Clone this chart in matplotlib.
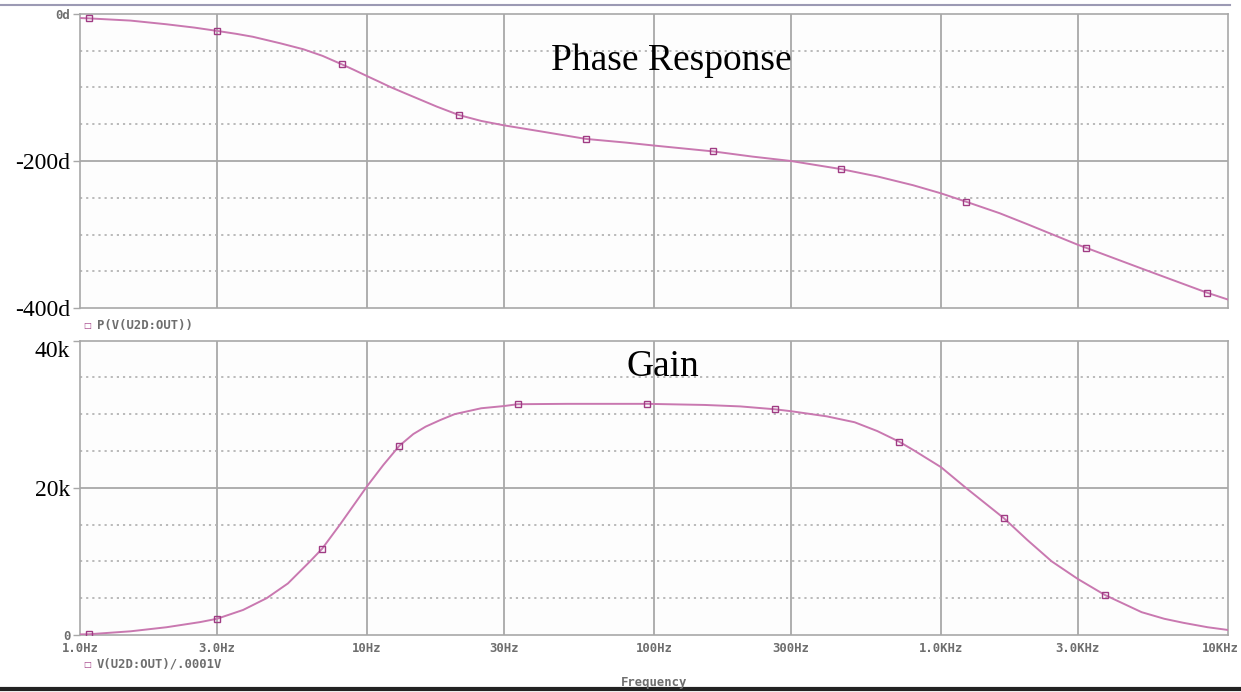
import matplotlib
matplotlib.use('Agg')
import matplotlib.pyplot as plt
from matplotlib.lines import Line2D
import matplotlib.transforms as mtransforms

# phase of V(U2D:OUT), degrees
phase_freq = [1.0, 1.075, 1.5, 2.0, 2.5, 3.0, 3.5, 4.0, 5.0, 6.0,
              7.0, 8.18, 9.0, 10, 11, 12, 13.5, 15, 17.5, 20.9,
              25, 30, 40, 58, 80, 100, 161, 220, 300, 448,
              600, 800, 1000, 1219, 1600, 2000, 3000, 3200, 5058, 8430,
              10000]
phase_deg = [-5.5, -6, -9, -14, -18.5, -23, -27, -31, -40, -48,
             -57, -68.6, -76, -84.5, -92, -99, -107.5, -115, -126, -137.5,
             -145.5, -151.5, -159.5, -170, -175, -179, -187, -194, -200, -211,
             -221, -233, -244, -255.2, -271, -286, -314, -318, -347, -379,
             -388.5]
phase_marks = [1, 5, 11, 19, 23, 26, 29, 33, 37, 39]

# gain, V(U2D:OUT)/.0001V, in thousands
gain_freq = [1.0, 1.075, 1.5, 2.0, 2.62, 3.0, 3.7, 4.47, 5.3, 6.33,
             6.97, 8.05, 10, 11.4, 12.96, 14.5, 16, 18, 20.2, 25,
             30, 33.5, 50, 94.6, 150, 200, 264, 300, 400, 500,
             600, 714, 803, 1000, 1220, 1657, 2000, 2431, 3000, 3727,
             5000, 6000, 7000, 8500, 10000]
gain_k = [0.08, 0.1, 0.5, 1.05, 1.75, 2.2, 3.4, 5.0, 7.0, 10.0,
          11.7, 15.0, 20.2, 23.1, 25.7, 27.3, 28.3, 29.2, 30.0, 30.8,
          31.1, 31.35, 31.4, 31.4, 31.25, 31.05, 30.66, 30.4, 29.7, 28.9,
          27.7, 26.27, 25.1, 22.8, 20.0, 15.86, 12.9, 10.0, 7.6, 5.43,
          3.1, 2.2, 1.65, 1.05, 0.68]
gain_marks = [1, 5, 10, 14, 21, 23, 26, 31, 35, 39]

x_ticks = [1, 3, 10, 30, 100, 300, 1000, 3000, 10000]
x_labels = ['1.0Hz', '3.0Hz', '10Hz', '30Hz', '100Hz', '300Hz', '1.0KHz', '3.0KHz', '10KHz']

LINE = '#c978b0'
MARK = '#a03c84'
GRID = '#a8a8a8'
DOT = '#b4b4b4'
TXT = '#6e6e6e'
mono = dict(family='DejaVu Sans Mono', weight='bold', color=TXT, size=8.8)
serif = dict(family='Liberation Serif', color='black', size=17)

fig = plt.figure(figsize=(12.41, 6.92), dpi=100)
fig.patch.set_facecolor('white')
ax1 = fig.add_axes([0.0645, 0.5549, 0.925, 0.4249])
ax2 = fig.add_axes([0.0645, 0.0824, 0.925, 0.4255])


def setup(ax, ymin, ymax, major, minor):
    ax.set_xscale('log')
    ax.set_xlim(1, 10000)
    ax.set_ylim(ymin, ymax)
    ax.set_facecolor('#fdfdfd')
    for s in ax.spines.values():
        s.set_color(GRID)
        s.set_linewidth(1.2)
    ax.minorticks_off()
    ax.set_xticks(x_ticks)
    for x in x_ticks[1:-1]:
        ax.axvline(x, color=GRID, lw=1.3, zorder=1)
    for y in minor:
        ax.axhline(y, color=DOT, lw=1.3, ls=(0, (1.2, 2.2)), zorder=1)
    for y in major[1:-1]:
        ax.axhline(y, color=GRID, lw=1.3, zorder=1)
    ax.set_yticks(major)
    ax.tick_params(axis='y', length=5, width=1, color=GRID, pad=2)
    ax.tick_params(axis='x', length=0, pad=5)


setup(ax1, -400, 0, [-400, -200, 0], [-350, -300, -250, -150, -100, -50])
setup(ax2, 0, 40000, [0, 20000, 40000], [5000, 10000, 15000, 25000, 30000, 35000])

ax1.plot(phase_freq, phase_deg, color=LINE, lw=1.4, zorder=3,
         marker='s', markevery=phase_marks, ms=4.5, mfc='none', mec=MARK, mew=1)
ax2.plot(gain_freq, [g * 1000 for g in gain_k], color=LINE, lw=1.4, zorder=3,
         marker='s', markevery=gain_marks, ms=4.5, mfc='none', mec=MARK, mew=1)

# y labels: small plotter font for the top/zero ticks, serif for the rest
ax1.set_yticklabels(['-400d', '-200d', '0d'])
labs = ax1.get_yticklabels()
for lab in labs[:2]:
    lab.set(**serif)
labs[2].set(**mono)

ax2.set_yticklabels(['0', '20k', '40k'])
labs = ax2.get_yticklabels()
for lab in labs[1:]:
    lab.set(**serif)
labs[2].set_verticalalignment('top')
labs[0].set(**mono)

ax1.set_xticklabels([])
ax2.set_xticklabels(x_labels)
for lab in ax2.get_xticklabels():
    lab.set(**mono)
last = ax2.get_xticklabels()[-1]
last.set_transform(last.get_transform() +
                   mtransforms.ScaledTranslation(-8 / 100, 0, fig.dpi_scale_trans))

ax1.text(0.515, 0.84, 'Phase Response', transform=ax1.transAxes, ha='center',
         va='center', family='Liberation Serif', size=27)
ax2.text(0.508, 0.912, 'Gain', transform=ax2.transAxes, ha='center',
         va='center', family='Liberation Serif', size=27)

# trace legends under each plot
fig.text(0.0702, 0.5293, '\u25a1', color=MARK, size=6, va='center', ha='center')
fig.text(0.078, 0.5293, 'P(V(U2D:OUT))', va='center', **mono)
fig.text(0.0702, 0.040, '\u25a1', color=MARK, size=6, va='center', ha='center')
fig.text(0.078, 0.040, 'V(U2D:OUT)/.0001V', va='center', **mono)
fig.text(0.5, 0.014, 'Frequency', va='center', **mono)

# window frame lines
fig.add_artist(Line2D([0, 0.991], [0.9928, 0.9928], color='#9c9ab4', lw=1.5))
fig.add_artist(Line2D([0, 1], [0.004, 0.004], color='#222222', lw=3))

fig.savefig('out.png', dpi=100)
